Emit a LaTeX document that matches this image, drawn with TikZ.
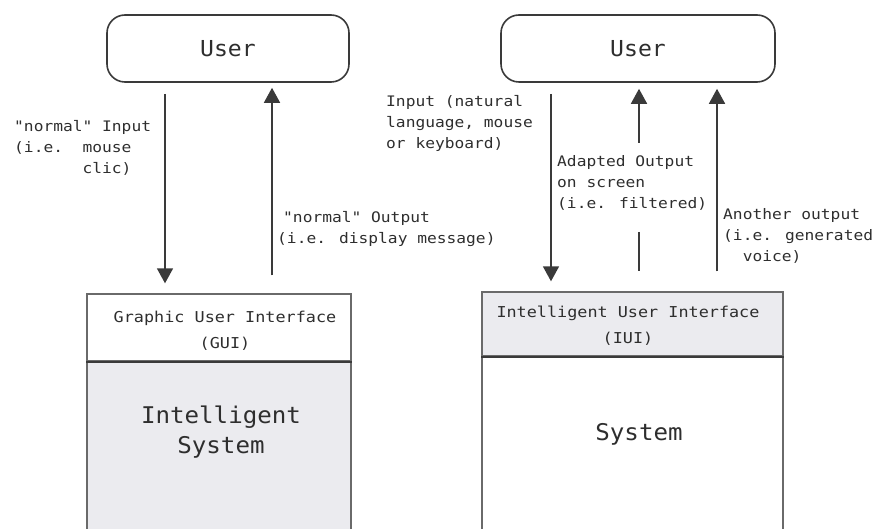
\documentclass[tikz,border=0pt]{standalone}
\usepackage{fontspec}
\newfontfamily\lblfont[FakeStretch=1.12]{DejaVu Sans Mono}
\newfontfamily\bigfont[FakeStretch=1.05]{DejaVu Sans Mono}
\usetikzlibrary{arrows.meta}
\definecolor{linegray}{HTML}{3A3A3A}
\definecolor{boxgray}{HTML}{6A6A6A}
\definecolor{panelfill}{HTML}{EBEBEF}
\definecolor{txtgray}{HTML}{2E2E2E}

\begin{document}
\begin{tikzpicture}[x=1pt,y=-1pt,
  userbox/.style={draw=linegray, line width=1.6pt, rounded corners=18pt,
    inner sep=0pt, text=txtgray, font=\bigfont\fontsize{22}{24}\selectfont},
  headbox/.style={draw=boxgray, line width=1.4pt, inner sep=0pt},
  headtext/.style={align=center, inner sep=0pt, text=txtgray,
    font=\lblfont\fontsize{15}{26}\selectfont},
  bodybox/.style={draw=boxgray, line width=1.4pt, inner sep=0pt},
  bodytext/.style={align=center, inner sep=0pt, text=txtgray,
    font=\bigfont\fontsize{23}{30}\selectfont},
  lbl/.style={align=left, inner sep=0pt, anchor=north west, text=txtgray,
    font=\lblfont\fontsize{14.5}{21}\selectfont},
  sepline/.style={draw=linegray, line width=2pt},
  wire/.style={draw=linegray, line width=1.6pt},
  arr/.style={wire, -{Triangle[width=16pt,length=15pt]}}
]
\useasboundingbox (0,0) rectangle (881,529);

% users
\node[userbox, minimum width=242pt, minimum height=67pt] (luser) at (228,48.5) {User};
\node[userbox, minimum width=274pt, minimum height=67pt] (ruser) at (638,48.5) {User};

% left stack: GUI on top of the intelligent system
\node[bodybox, fill=panelfill, minimum width=264pt, minimum height=185pt] (lsys) at (219,453.5) {};
\node[headbox, fill=white, minimum width=264pt, minimum height=67pt] (gui) at (219,327.5) {};
\draw[sepline] (gui.south west) -- (gui.south east);
\node[headtext] (guitxt) at (225,331) {Graphic User Interface\\(GUI)};
\node[bodytext] (ltxt) at (221,432) {Intelligent\\System};

% right stack: IUI on top of the plain system
\node[bodybox, fill=white, minimum width=301pt, minimum height=190pt] (rsys) at (632.5,451) {};
\node[headbox, fill=panelfill, minimum width=301pt, minimum height=64pt] (iui) at (632.5,324) {};
\draw[sepline] (iui.south west) -- (iui.south east);
\node[headtext] (iuitxt) at (628,326) {Intelligent User Interface\\(IUI)};
\node[bodytext] (rtxt) at (639,434) {System};

% arrow columns
\coordinate (lin) at (165,0);
\coordinate (lout) at (272,0);
\coordinate (rin) at (551,0);
\coordinate (rad) at (639,0);
\coordinate (rany) at (717,0);

% left connectors
\draw[arr, shorten <=11pt, shorten >=10pt] (luser.south -| lin) -- (gui.north -| lin);
\draw[arr, shorten <=18pt, shorten >=5pt] (gui.north -| lout) -- (luser.south -| lout);

% right connectors
\draw[arr, shorten <=11pt, shorten >=10pt] (ruser.south -| rin) -- (iui.north -| rin);
\coordinate (adtop) at (639,143);
\draw[arr, shorten >=6pt] (adtop) -- (ruser.south -| rad);
\coordinate (adlow) at (639,232);
\draw[wire, shorten >=20pt] (adlow) -- (iui.north -| rad);
\draw[arr, shorten <=20pt, shorten >=6pt] (iui.north -| rany) -- (ruser.south -| rany);

% labels
\node[lbl] (linlbl) at (14,120) {"normal" Input\\(i.e.\ \ mouse\\\hphantom{(i.e.\ \ }clic)};
\node[lbl] (loutlbl) at (277,211) {\hspace*{6pt}"normal" Output\\(i.e. display message)};
\node[lbl] (rinlbl) at (386,95) {Input (natural\\language, mouse\\or keyboard)};
\node[lbl] (radlbl) at (557,155) {Adapted Output\\on screen\\(i.e. filtered)};
\node[lbl] (ranylbl) at (723,208) {Another output\\(i.e. generated\\\hphantom{(i}voice)};
\end{tikzpicture}
\end{document}
